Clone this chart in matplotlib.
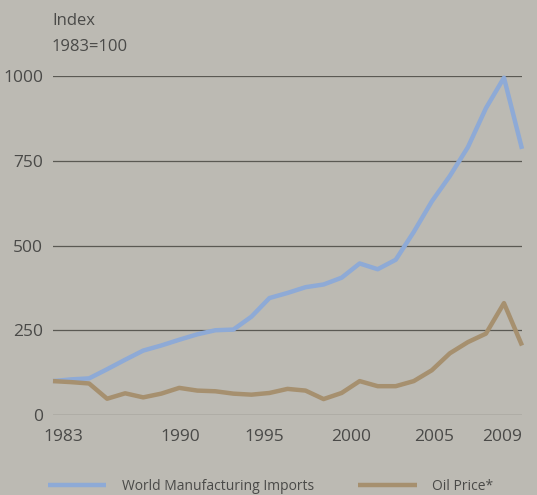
import matplotlib
matplotlib.use("Agg")
import matplotlib.pyplot as plt
import matplotlib.transforms as mtransforms

plt.rcParams['font.family'] = ['Open Sans', 'DejaVu Sans']

years = list(range(1983, 2010))
manuf_imports = [100, 105, 108, 135, 163, 190, 205, 222, 238, 250, 252, 290, 345, 360,
                 377, 385, 405, 447, 430, 458, 540, 630, 705, 790, 905, 995, 785]
oil_price = [100, 97, 93, 48, 64, 52, 63, 80, 72, 70, 63, 60, 65, 77,
             72, 47, 65, 100, 85, 85, 100, 132, 182, 215, 240, 330, 205]
x_ticks = [1983, 1990, 1995, 2000, 2005, 2009]
y_ticks = [0, 250, 500, 750, 1000]

bg = '#bcbab3'
txt = '#4a4a48'
blue = '#8eaad6'
brown = '#a6906f'

fig = plt.figure(figsize=(5.37, 4.95), dpi=100, facecolor=bg)
ax = fig.add_axes([53 / 537, 1 - 415 / 495, (522 - 53) / 537, (415 - 76) / 495])
ax.set_facecolor(bg)

for y in y_ticks:
    ax.axhline(y, color='#5a5953', lw=0.9, zorder=1)

l1, = ax.plot(years, manuf_imports, color=blue, lw=3.2, solid_capstyle='butt',
              solid_joinstyle='round', clip_on=False, zorder=3)
l2, = ax.plot(years, oil_price, color=brown, lw=3.2, solid_capstyle='butt',
              solid_joinstyle='round', clip_on=False, zorder=3)

ax.set_xlim(1983, 2009)
ax.set_ylim(0, 1000)
for s in ax.spines.values():
    s.set_visible(False)

ax.set_yticks(y_ticks)
ax.set_yticklabels([str(v) for v in y_ticks])
ax.set_xticks(x_ticks)
ax.set_xticklabels([str(v) for v in x_ticks])
ax.tick_params(axis='both', length=0, labelsize=12.5, colors=txt)
ax.tick_params(axis='y', pad=7)
ax.tick_params(axis='x', pad=10)

# nudge year labels like in the print
shifts = [10, 1, -5, -9, -16, -20]
for lab, dx in zip(ax.get_xticklabels(), shifts):
    lab.set_transform(lab.get_transform() + mtransforms.ScaledTranslation(dx / 100, 0, fig.dpi_scale_trans))

fig.text(52 / 537, 1 - 21 / 495, 'Index', fontsize=12, color=txt, va='center', ha='left')
fig.text(52 / 537, 1 - 47 / 495, '1983=100', fontsize=12, color=txt, va='center', ha='left')

fig.legend([l1, l2], ['World Manufacturing Imports', 'Oil Price*'],
           loc='center left', bbox_to_anchor=(48 / 537, 1 - 486 / 495), ncol=2,
           frameon=False, fontsize=10, labelcolor=txt, handlelength=4.2,
           handletextpad=1.1, columnspacing=3.2, borderpad=0, borderaxespad=0)

fig.savefig('out.png', dpi=100, facecolor=bg)
